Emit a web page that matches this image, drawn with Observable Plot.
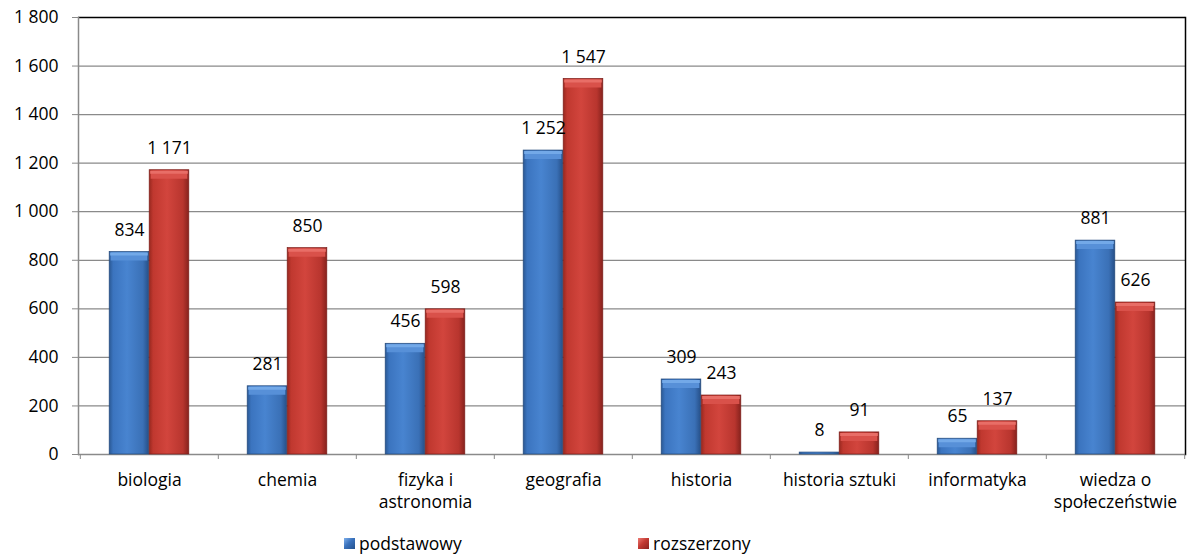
<!DOCTYPE html>
<html>
<head>
<meta charset="utf-8">
<script src="https://cdn.jsdelivr.net/npm/d3@7"></script>
<script src="https://cdn.jsdelivr.net/npm/@observablehq/plot@0.6"></script>
<style>
  html, body { margin: 0; padding: 0; background: #fff; }
  body { position: relative; width: 1196px; height: 554px; font-family: "Open Sans", sans-serif; }
  #chart svg { display: block; }
  .legend { position: absolute; top: 532px; font-size: 17.5px; line-height: 22px; color: #000; display: flex; align-items: center; }
  .key { display: inline-block; width: 11px; height: 11px; margin-right: 4px; }
</style>
</head>
<body>
<div id="chart"></div>
<div class="legend" style="left:344px"><span class="key" style="background:linear-gradient(135deg,#7fb0ec,#3a72bd 45%,#24518c)"></span>podstawowy</div>
<div class="legend" style="left:638px"><span class="key" style="background:linear-gradient(135deg,#ee7b74,#c43a33 45%,#8a221e)"></span>rozszerzony</div>
<script>
const categories = ["biologia", "chemia", "fizyka i astronomia", "geografia", "historia", "historia sztuki", "informatyka", "wiedza o społeczeństwie"];
const categoryLabels = ["biologia", "chemia", "fizyka i\nastronomia", "geografia", "historia", "historia sztuki", "informatyka", "wiedza o\nspołeczeństwie"];
const seriesNames = ["podstawowy", "rozszerzony"];
const podstawowy = [834, 281, 456, 1252, 309, 8, 65, 881];
const rozszerzony = [1171, 850, 598, 1547, 243, 91, 137, 626];
const yTicks = [0, 200, 400, 600, 800, 1000, 1200, 1400, 1600, 1800];

const locale = d3.formatLocale({decimal: ",", thousands: " ", grouping: [3], currency: ["", " zł"]});
const fmt = locale.format(",d");

const blueData = categories.map((c, i) => ({cat: c, series: seriesNames[0], value: podstawowy[i]}));
const redData = categories.map((c, i) => ({cat: c, series: seriesNames[1], value: rozszerzony[i]}));

const W = 1196, H = 520, ML = 78, MR = 11, MT = 17, MB = 66;
const bw = (W - ML - MR) / categories.length;
const barW = 40;
const FS = 17.5;

const bevel = (data, left, color1, color2) => [
  Plot.tickY(data.filter(d => d.value >= 40), {x: "cat", y: "value", stroke: color1, strokeWidth: 8, dy: 4.5,
    insetLeft: left ? bw / 2 - barW + 1.5 : bw / 2 + 1.5, insetRight: left ? bw / 2 + 1.5 : bw / 2 - barW + 1.5}),
  Plot.tickY(data.filter(d => d.value >= 40), {x: "cat", y: "value", stroke: color2, strokeWidth: 3, dy: 2,
    insetLeft: left ? bw / 2 - barW + 1 : bw / 2 + 1, insetRight: left ? bw / 2 + 1 : bw / 2 - barW + 1})
];

const svg = Plot.plot({
  width: W, height: H,
  marginLeft: ML, marginRight: MR, marginTop: MT, marginBottom: MB,
  style: {fontFamily: "'Open Sans', sans-serif", fontSize: FS + "px", color: "#000", background: "#fff"},
  x: {domain: categories, padding: 0, axis: null},
  y: {domain: [0, 1800], axis: null},
  marks: [
    Plot.gridY(yTicks, {stroke: "#8a8a8a", strokeOpacity: 1, strokeWidth: 1.2}),
    Plot.axisY(yTicks, {tickSize: 6, tickPadding: 14, tickFormat: fmt, fontSize: FS, stroke: "#8a8a8a", fill: "#000", label: null}),
    Plot.ruleY([0], {stroke: "#8a8a8a", strokeWidth: 1.5}),
    Plot.ruleY([1800], {stroke: "#000", strokeWidth: 1.5}),
    Plot.frame({anchor: "left", stroke: "#8a8a8a", strokeWidth: 1.5}),
    Plot.frame({anchor: "right", stroke: "#000", strokeWidth: 1.5}),
    Plot.axisX({tickSize: 5, tickFormat: () => "", dx: -bw / 2, stroke: "#8a8a8a", label: null}),
    Plot.axisX([categories[categories.length - 1]], {tickSize: 5, tickFormat: () => "", dx: bw / 2, stroke: "#8a8a8a", label: null}),
    Plot.axisX({tickSize: 0, tickPadding: 15, tickFormat: c => categoryLabels[categories.indexOf(c)], fontSize: FS, lineHeight: 1.3, fill: "#000", label: null}),
    Plot.barY(blueData, {x: "cat", y: "value", fill: "url(#gBlue)", stroke: "#244a7c", strokeWidth: 0.7,
      insetLeft: bw / 2 - barW, insetRight: bw / 2}),
    Plot.barY(redData, {x: "cat", y: "value", fill: "url(#gRed)", stroke: "#7e1f1b", strokeWidth: 0.7,
      insetLeft: bw / 2, insetRight: bw / 2 - barW}),
    ...bevel(blueData, true, "#5790d8", "#73a9e8"),
    ...bevel(redData, false, "#d9514a", "#e86e67"),
    Plot.text(blueData, {x: "cat", y: "value", text: d => fmt(d.value), dx: -barW / 2, dy: -22, fontSize: FS, fill: "#000"}),
    Plot.text(redData, {x: "cat", y: "value", text: d => fmt(d.value), dx: barW / 2, dy: -22, fontSize: FS, fill: "#000"})
  ]
});

d3.select(svg).insert("defs", ":first-child").html(`
  <linearGradient id="gBlue" x1="0" x2="1" y1="0" y2="0">
    <stop offset="0" stop-color="#2a5893"/>
    <stop offset="0.1" stop-color="#3b74bf"/>
    <stop offset="0.45" stop-color="#4884d0"/>
    <stop offset="0.85" stop-color="#3a70b6"/>
    <stop offset="1" stop-color="#264f87"/>
  </linearGradient>
  <linearGradient id="gRed" x1="0" x2="1" y1="0" y2="0">
    <stop offset="0" stop-color="#98281f"/>
    <stop offset="0.1" stop-color="#c0382f"/>
    <stop offset="0.45" stop-color="#d2453d"/>
    <stop offset="0.85" stop-color="#b8352e"/>
    <stop offset="1" stop-color="#86221d"/>
  </linearGradient>
`);

document.getElementById("chart").appendChild(svg);
</script>
</body>
</html>
